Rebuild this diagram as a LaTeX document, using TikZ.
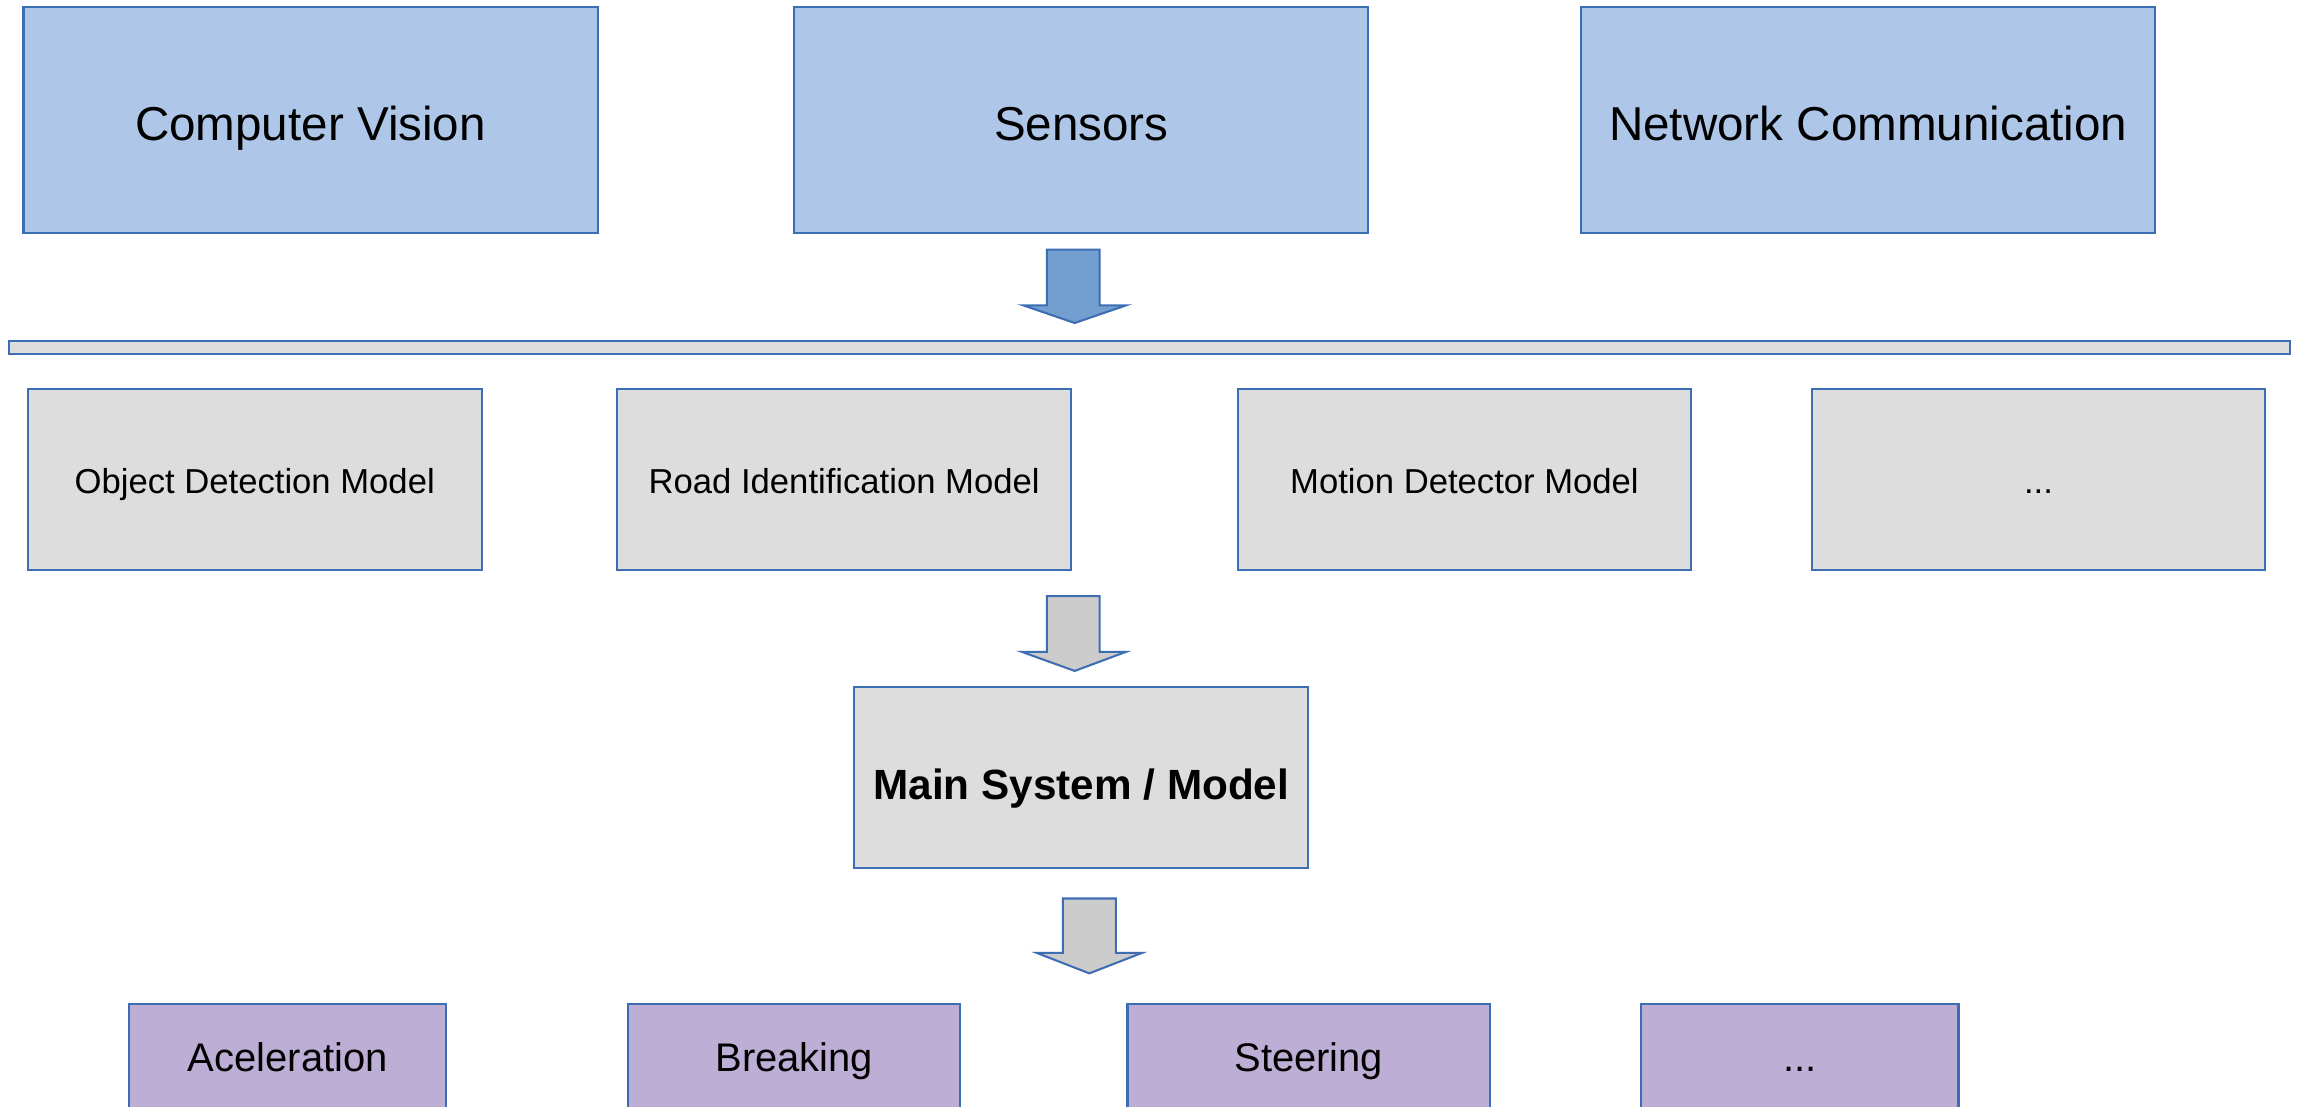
\documentclass[tikz,border=0pt]{standalone}
\usepackage{fontspec}
\setmainfont{Liberation Sans}
\definecolor{edge}{HTML}{3D6DB3}
\definecolor{skyfill}{HTML}{AEC6E7}
\definecolor{arrowblue}{HTML}{729FD0}
\definecolor{greyfill}{HTML}{DDDDDD}
\definecolor{arrowgrey}{HTML}{CCCCCC}
\definecolor{lilac}{HTML}{BDAED5}
\tikzset{
  every node/.style={inner sep=0pt, outer sep=0pt},
  box/.style={draw=edge, line width=0.7pt, rectangle, align=center, text depth=0pt},
  topbox/.style={box, fill=skyfill, minimum width=195.5pt, minimum height=77pt, text height=13.6pt, font=\fontsize{16.2}{19}\selectfont},
  modelbox/.style={box, fill=greyfill, minimum width=154.5pt, minimum height=61.5pt, text height=9.65pt, font=\fontsize{11.8}{14}\selectfont},
  mainbox/.style={box, fill=greyfill, minimum width=154.5pt, minimum height=61.5pt, text height=15.1pt, font=\fontsize{14.4}{17}\selectfont\bfseries},
  actbox/.style={box, fill=lilac, minimum height=61.5pt, text height=0pt},
  actlabel/.style={text height=0.716em, text depth=0pt, font=\fontsize{13.6}{16}\selectfont},
  blockarrow/.style={draw=edge, line width=0.7pt, line join=miter},
}
\begin{document}
\begin{tikzpicture}[x=0.5pt, y=-0.5pt]
\useasboundingbox (0,0) rectangle (1568,754);
\fill[white] (0,0) rectangle (1568,754);

% input sources
\node[topbox] (cv)  at (211.5,82) {Computer Vision};
\node[topbox] (sen) at (736.5,82) {Sensors};
\node[topbox] (net) at (1272.5,82) {Network Communication};

% collecting bar
\node[box, fill=greyfill, text height=0pt, minimum width=777pt, minimum height=4.5pt] (bar) at (783,236.5) {};

% blue block arrow into the bar
\draw[blockarrow, fill=arrowblue]
  (713,170) -- (749,170) -- (749,208) -- (767,208) -- (732,220) -- (697,208) -- (713,208) -- cycle;

% models
\node[modelbox] (odm) at (173.5,326.5) {Object Detection Model};
\node[modelbox] (rim) at (575,326.5) {Road Identification Model};
\node[modelbox] (mdm) at (997.5,326.5) {Motion Detector Model};
\node[modelbox] (etc) at (1388.5,326.5) {...};

% grey block arrow into the main system
\draw[blockarrow, fill=arrowgrey]
  (713,406) -- (749,406) -- (749,444) -- (767,444) -- (732,457) -- (696,444) -- (713,444) -- cycle;

\node[mainbox] (main) at (736.5,529.5) {Main System / Model};

% grey block arrow into the actuators
\draw[blockarrow, fill=arrowgrey]
  (724,612) -- (760,612) -- (760,649) -- (778,649) -- (742,663) -- (706,649) -- (724,649) -- cycle;

% actuators
\node[actbox, minimum width=108pt]   (acc) at (196,745.5) {};
\node[actbox, minimum width=113pt]   (brk) at (541,745.5) {};
\node[actbox, minimum width=123.5pt] (str) at (891.5,745.5) {};
\node[actbox, minimum width=108pt]   (more) at (1226,745.5) {};
\node[actlabel] at ([yshift=-19.2pt]acc.north)  {Aceleration};
\node[actlabel] at ([yshift=-19.2pt]brk.north)  {Breaking};
\node[actlabel] at ([yshift=-19.2pt]str.north)  {Steering};
\node[actlabel] at ([yshift=-19.2pt]more.north) {...};
\end{tikzpicture}
\end{document}
